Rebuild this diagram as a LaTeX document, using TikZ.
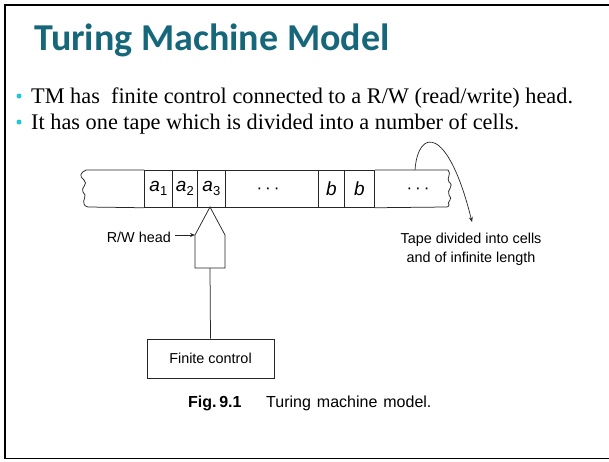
\documentclass[tikz,border=0pt]{standalone}
\usepackage{fontspec}
\setmainfont{Liberation Serif}
\newfontfamily\titlefont{Carlito}
\newfontfamily\figfont{Liberation Sans}
\usetikzlibrary{arrows.meta}
\definecolor{titleteal}{RGB}{23,103,123}
\definecolor{bulletcyan}{RGB}{30,200,215}
\tikzset{
  frame/.style={line width=1.8pt, black},
  tapeline/.style={line width=0.75pt, black!85},
  cellbox/.style={draw=black!85, line width=0.75pt, minimum height=37pt, inner sep=0pt, anchor=north west},
  celltxt/.style={font=\figfont\fontsize{19}{19}\selectfont\itshape},
  figtxt/.style={font=\figfont\fontsize{14.4}{19}\selectfont},
  dotstxt/.style={font=\figfont\fontsize{17}{17}\selectfont, inner sep=0pt, anchor=base},
  bodytxt/.style={font=\fontsize{22.3}{24}\selectfont, anchor=base west, inner sep=0pt},
  bulletdot/.style={circle, fill=bulletcyan, inner sep=0pt, minimum size=5pt},
  pointer/.style={-{Stealth[length=5pt,width=4pt]}, line width=0.7pt, black!85}
}
\newcommand{\cellsub}[2]{#1\raisebox{-4pt}{\upshape\fontsize{13}{13}\selectfont #2}}
\begin{document}
\begin{tikzpicture}[x=1pt,y=-1pt]
\useasboundingbox (0,0) rectangle (609,461);
\fill[white] (0,0) rectangle (609,461);
% frame
\draw[frame] (609,5) -- (5,5) -- (5,458.5) -- (609,458.5);
% title
\node[anchor=base west, inner sep=0pt, text=titleteal, font=\titlefont\bfseries\fontsize{38}{40}\selectfont] (title) at (34,50) {Turing Machine Model};
% bullets
\node[bulletdot] (b1) at (19,96) {};
\node[bulletdot] (b2) at (19,122) {};
\node[bodytxt] (t1) at (31,103) {TM has\ \ finite control connected to a R/W (read/write) head.};
\node[bodytxt] (t2) at (31,129) {It has one tape which is divided into a number of cells.};
% tape cells
\node[cellbox, minimum width=28pt] (ca1) at (144,170) {};
\node[cellbox, minimum width=25pt] (ca2) at (172,170) {};
\node[cellbox, minimum width=28pt] (ca3) at (197,170) {};
\node[cellbox, minimum width=93pt] (cdots) at (225,170) {};
\node[cellbox, minimum width=26pt] (cb1) at (318,170) {};
\node[cellbox, minimum width=30pt] (cb2) at (344,170) {};
\node[celltxt] (la1) at (ca1.center) {\cellsub{a}{1}};
\node[celltxt] (la2) at (ca2.center) {\cellsub{a}{2}};
\node[celltxt] (la3) at (ca3.center) {\cellsub{a}{3}};
\node[celltxt] (lb1) at (cb1.center) {b};
\node[celltxt] (lb2) at (cb2.center) {b};
\node[dotstxt] (ld1) at (268,193) {·\hspace{3pt}·\hspace{3pt}·};
\node[dotstxt] (ld2) at (418,193) {·\hspace{3pt}·\hspace{3pt}·};
% left end of the tape
\draw[tapeline] (ca1.north west) -- (86,170) .. controls (80,173) and (79,176) .. (84,180)
  .. controls (89,184) and (80,188) .. (83,192) .. controls (88,196) and (82,200) .. (84,204)
  .. controls (85,206) .. (88,207) -- (ca1.south west);
% right end of the tape
\draw[tapeline] (cb2.north east) -- (448,170) .. controls (452,174) and (446,178) .. (449,182)
  .. controls (455,186) and (446,190) .. (449,195) .. controls (454,199) and (446,202) .. (449,205)
  .. controls (448,207) .. (446,207) -- (cb2.south east);
% head
\coordinate (headtop) at (210,207);
\coordinate (headbot) at (210,268);
\coordinate (headleft) at (195,235);
\draw[tapeline] (headtop) -- (225,235) -- (225,268) -- (195,268) -- (195,235) -- cycle;
% finite control
\node[draw=black!85, line width=0.75pt, minimum width=127pt, minimum height=39pt, inner sep=0pt, figtxt] (fc) at (210.5,358.5) {Finite control};
\draw[tapeline] (headbot) -- (fc.north);
% R/W head label
\node[figtxt, anchor=base east, inner sep=0pt] (rw) at (171,242) {R/W head};
\draw[pointer] (rw.east |- headleft) ++(4,0) coordinate (rwarrow) -- (headleft);
% tape note
\node[figtxt, align=center, anchor=base, inner sep=0pt] (note) at (471,262) {Tape divided into cells\\and of infinite length};
\coordinate (arcstart) at (415,170);
\coordinate (arcend) at (472,222);
\draw[pointer] (arcstart) .. controls (418,128) and (448,125) .. (arcend);
% caption
\node[anchor=base west, inner sep=0pt, font=\figfont\bfseries\fontsize{16}{18}\selectfont] (figno) at (188,407) {Fig.\,9.1};
\node[anchor=base west, inner sep=0pt, font=\figfont\fontsize{16}{18}\selectfont] (figcap) at (266,407) {Turing\hspace{6pt}machine\hspace{6pt}model.};
\end{tikzpicture}
\end{document}
